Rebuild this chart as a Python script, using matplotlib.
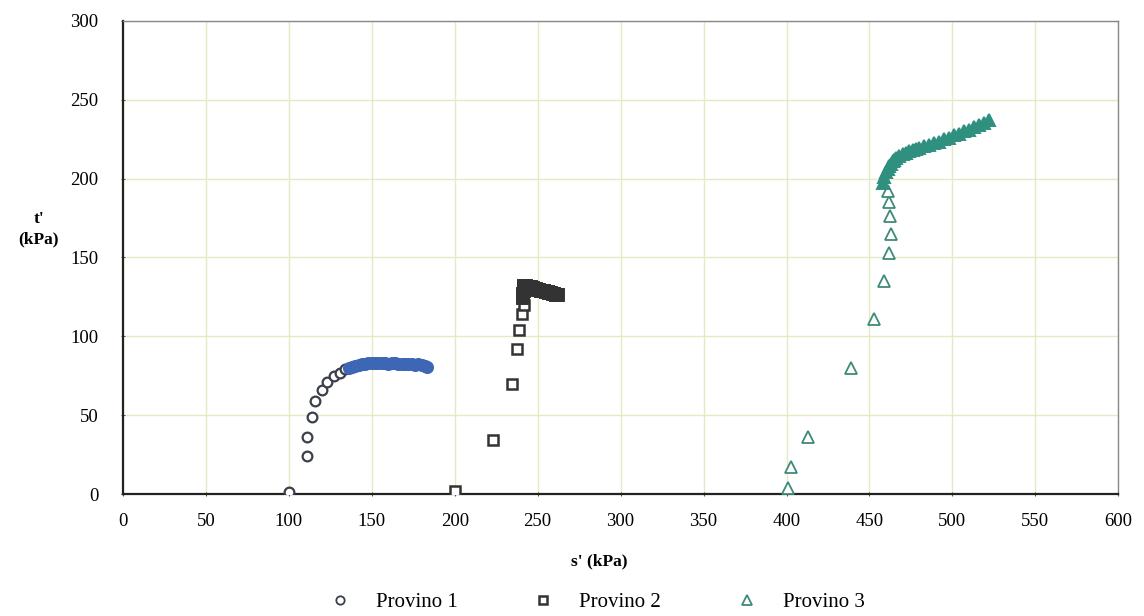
import matplotlib
matplotlib.use("Agg")
import matplotlib.pyplot as plt
from matplotlib.lines import Line2D

plt.rcParams["font.family"] = ["Liberation Serif", "DejaVu Serif"]

# Provino 1 - sparse start, then dense plateau
p1_x = [100, 111, 111, 114, 116, 120, 123, 127, 131, 134]
p1_y = [1, 24, 36, 49, 59, 66, 71, 75, 77, 79]
p1d_x = [136, 138, 140, 142, 144, 146, 148, 150, 152, 154, 156, 158, 160,
         162, 164, 166, 168, 170, 172, 174, 176, 178, 180, 182, 183]
p1d_y = [80.0, 80.6, 81.2, 81.8, 82.2, 82.6, 83.0, 83.2, 83.3, 83.2, 83.0,
         82.8, 82.7, 82.9, 82.8, 82.6, 82.5, 82.4, 82.6, 82.3, 82.1, 82.6,
         81.8, 81.2, 80.8]

# Provino 2
p2_x = [200, 223, 234.5, 237.5, 239, 240.5, 242]
p2_y = [2, 34, 70, 92, 104, 114, 120]
p2d_x = [241, 241, 241.5, 241.5, 242, 242.5, 243, 244, 245, 246, 247, 248,
         249, 250, 251, 252, 253, 254, 255, 256, 257, 258, 259, 260, 261, 262]
p2d_y = [124, 127, 129, 131.5, 132, 131.5, 132, 131.5, 131, 131, 130.5, 130,
         130, 129.5, 129.5, 129, 128.5, 128.5, 128, 128, 127.5, 127.5, 127,
         127, 126.5, 126.5]

# Provino 3
p3_x = [401, 403, 413, 439, 453, 459, 462, 463, 462.5, 462, 461]
p3_y = [4, 17, 36, 80, 111, 135, 153, 165, 176, 185, 192]
p3d_x = [458, 459, 460, 461, 462, 463, 464, 465, 466, 468, 470, 472, 474,
         476, 478, 480, 483, 486, 489, 492, 495, 498, 501, 504, 507, 510,
         513, 516, 519, 522]
p3d_y = [197, 201, 204, 206, 208, 209.5, 211, 212, 213, 214.5, 215.5, 216.5,
         217.5, 218, 219, 219.5, 220.5, 221.5, 222.5, 223.5, 225, 226, 227.5,
         228.5, 230, 231, 232.5, 234, 235.5, 237.5]

C1_EDGE, C1_DENSE = "#3a3f4a", "#3d66b5"
C2 = "#333333"
C3_EDGE, C3_DENSE = "#3e8a78", "#2f9080"
GRID = "#e4ebc4"

fig = plt.figure(figsize=(11.44, 6.16), dpi=100)
ax = fig.add_axes([0.1075, 0.198, 0.870, 0.768])

ax.plot(p1_x, p1_y, "o", ms=7, mfc="white", mec=C1_EDGE, mew=1.6, zorder=4)
ax.plot(p1d_x, p1d_y, "o", ms=8, mfc=C1_DENSE, mec=C1_DENSE, mew=1.4, zorder=4)
ax.plot(p2_x, p2_y, "s", ms=7, mfc="white", mec=C2, mew=1.8, zorder=4)
ax.plot(p2d_x, p2d_y, "s", ms=8, mfc=C2, mec=C2, mew=1.4, zorder=4)
ax.plot(p3_x, p3_y, "^", ms=8, mfc="white", mec=C3_EDGE, mew=1.3, zorder=4)
ax.plot(p3d_x, p3d_y, "^", ms=9, mfc=C3_DENSE, mec=C3_DENSE, mew=1.4, zorder=4)

ax.set_xlim(0, 600)
ax.set_ylim(0, 300)
ax.set_xticks(range(0, 601, 50))
ax.set_yticks(range(0, 301, 50))
ax.grid(True, color=GRID, lw=1.0, zorder=0)
ax.tick_params(labelsize=13.5, length=3, direction="inout", color="#555555")
ax.tick_params(axis="x", pad=12)
ax.tick_params(axis="y", pad=16)
for s in ("left", "bottom"):
    ax.spines[s].set_color("#222222")
    ax.spines[s].set_linewidth(1.6)
for s in ("top", "right"):
    ax.spines[s].set_color("#888888")
    ax.spines[s].set_linewidth(1.0)

fig.text(0.524, 0.088, "s' (kPa)", ha="center", va="center",
         fontsize=12.5, fontweight="bold")
fig.text(0.034, 0.628, "t'\n(kPa)", ha="center", va="center",
         fontsize=12.5, fontweight="bold", linespacing=1.3)

handles = [
    Line2D([], [], ls="none", marker="o", ms=6, mfc="white", mec=C1_EDGE, mew=1.3),
    Line2D([], [], ls="none", marker="s", ms=6, mfc="white", mec=C2, mew=1.8),
    Line2D([], [], ls="none", marker="^", ms=7, mfc="white", mec=C3_EDGE, mew=1.3),
]
fig.legend(handles, ["Provino 1", "Provino 2", "Provino 3"], loc="center",
           bbox_to_anchor=(0.522, 0.022), ncol=3, frameon=False, fontsize=15,
           handlelength=1.0, handletextpad=1.23, columnspacing=3.6)

fig.savefig("out.png", dpi=100, facecolor="white")
